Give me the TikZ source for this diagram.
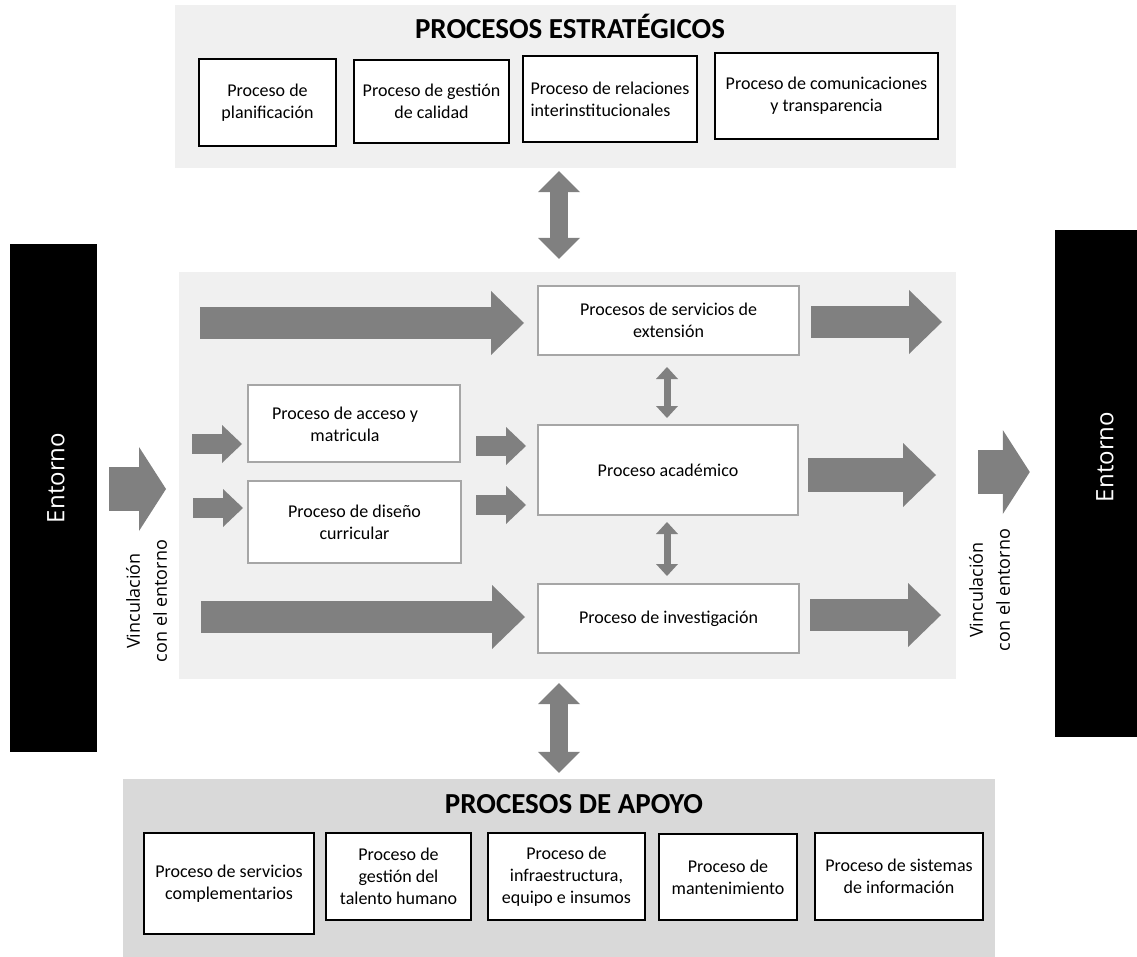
\documentclass[tikz,border=0pt]{standalone}
\usepackage{fontspec}
\setmainfont{Carlito}
\newfontfamily\entfont{Open Sans}
\usetikzlibrary{arrows.meta}
\definecolor{arrgray}{HTML}{808080}
\definecolor{panelgray}{HTML}{F0F0F0}
\definecolor{apogray}{HTML}{D9D9D9}
\definecolor{linegray}{HTML}{A6A6A6}
\def\boxfont{\fontsize{18}{22}\selectfont}
\tikzset{
	sz/.style 2 args={minimum width=#1pt, minimum height=#2pt},
	panel/.style={fill=#1, draw=none, inner sep=0pt},
	title/.style={font=\fontsize{29}{34}\selectfont\bfseries},
	envtext/.style={text=white, rotate=90, font=\entfont\fontsize{24}{28}\selectfont},
	vinc/.style={rotate=90, align=center, font=\entfont\fontsize{18}{27}\selectfont},
	strbox/.style={draw=black, line width=2.5pt, fill=white, align=center, font=\boxfont, inner sep=2pt},
	midbox/.style={draw=linegray, line width=2pt, fill=white, align=center, font=\boxfont, inner sep=2pt},
	bigarr/.style={draw=arrgray, line width=32pt, -{Triangle[width=64pt,length=33pt,line width=0pt]}},
	smallarr/.style={draw=arrgray, line width=20pt, -{Triangle[width=38pt,length=20pt,line width=0pt]}},
	entarr/.style={draw=arrgray, line width=44pt, -{Triangle[width=84pt,length=27pt,line width=0pt]}},
	dblarr/.style={draw=arrgray, line width=18pt, {Triangle[width=42pt,length=21pt,line width=0pt]}-{Triangle[width=42pt,length=21pt,line width=0pt]}},
	thinarr/.style={draw=arrgray, line width=7pt, {Triangle[width=22pt,length=12pt,line width=0pt]}-{Triangle[width=22pt,length=12pt,line width=0pt]}}
}

\begin{document}
\begin{tikzpicture}[x=1pt, y=-1pt]
		\useasboundingbox (0,0) rectangle (1137,957);
		
		%%%%% PANELES %%%%%
		\node[panel=panelgray, sz={781}{163}] (str) at (565.5,86.5) {};
		\node[panel=panelgray, sz={777}{407}] (mid) at (567.5,475.5) {};
		\node[panel=apogray, sz={872}{178}] (apo) at (559,868) {};
		\node[panel=black, sz={87}{508}] (envL) at (53.5,498) {};
		\node[panel=black, sz={82}{507}] (envR) at (1096,483.5) {};
		
		\node[title, anchor=base] (strT) at (570,39) {PROCESOS ESTRATÉGICOS};
		\node[title, anchor=base] (apoT) at (574,813) {PROCESOS DE APOYO};
		
		\node[envtext] (envLT) at (56,478) {Entorno};
		\node[envtext] (envRT) at (1105,457) {Entorno};
		\node[vinc] (vincL) at (146.5,601) {Vinculación\\con el entorno};
		\node[vinc] (vincR) at (989.5,590) {Vinculación\\con el entorno};
		
		%%%%% ESTRATEGICOS %%%%%
		\node[strbox, sz={137}{87}] (plan) at (267.5,102.5) {Proceso de\\planificación};
		\node[strbox, sz={155}{83}] (gest) at (431.5,101.5) {Proceso de gestión\\de calidad};
		\node[strbox, sz={174}{86}, align=left] (rel) at (610,99) {Proceso de relaciones\\interinstitucionales};
		\node[strbox, sz={223}{86}] (com) at (826.5,96) {Proceso de comunicaciones\\y transparencia};
		
		%%%%% MISIONALES %%%%%
		\node[midbox, sz={261}{69}] (ext) at (668.5,320.5) {Procesos de servicios de\\extensión};
		\node[midbox, sz={260}{90}] (acad) at (668,470) {Proceso académico};
		\node[midbox, sz={261}{69}] (inv) at (668.5,618.5) {Proceso de investigación};
		\node[midbox, sz={212}{77}] (acc) at (354,423.5) {};
		\node[font=\boxfont, align=center] (accT) at (345,424) {Proceso de acceso y\\matricula};
		\node[midbox, sz={213}{82}] (dis) at (354.5,522) {Proceso de diseño\\curricular};
		
		%%%%% APOYO %%%%%
		\node[strbox, sz={170}{101}] (serv) at (229,883.5) {Proceso de servicios\\complementarios};
		\node[strbox, sz={145}{87}] (tal) at (398.5,876.5) {Proceso de\\gestión del\\talento humano};
		\node[strbox, sz={157}{87}] (inf) at (566.5,876.5) {Proceso de\\infraestructura,\\equipo e~insumos};
		\node[strbox, sz={138}{86}] (man) at (728,877) {Proceso de\\mantenimiento};
		\node[strbox, sz={168}{87}] (sis) at (899,876.5) {Proceso de sistemas\\de información};
		
		%%%%% FLECHAS %%%%%
		\coordinate (vx) at (559,0);
		\coordinate (vy) at (667,0);
		\draw[dblarr, shorten <=3pt, shorten >=13pt] (str.south -| vx) -- (mid.north -| vx);
		\draw[dblarr, shorten <=4pt, shorten >=6pt] (mid.south -| vx) -- (apo.north -| vx);
		\draw[thinarr, shorten <=11pt, shorten >=6pt] (ext.south -| vy) -- (acad.north -| vy);
		\draw[thinarr, shorten <=6pt, shorten >=7pt] (acad.south -| vy) -- (inv.north -| vy);
		
		\coordinate (inE) at (200,323);
		\coordinate (inI) at (201,617);
		\draw[bigarr, shorten >=13pt] (inE) -- (ext.west |- inE);
		\draw[bigarr, shorten >=12pt] (inI) -- (inv.west |- inI);
		
		\coordinate (outE) at (942,322);
		\coordinate (outA) at (936,475);
		\coordinate (outI) at (941,615);
		\draw[bigarr, shorten <=11pt] (ext.east |- outE) -- (outE);
		\draw[bigarr, shorten <=9pt, line width=34pt] (acad.east |- outA) -- (outA);
		\draw[bigarr, shorten <=10pt] (inv.east |- outI) -- (outI);
		
		\coordinate (inAc) at (192,444);
		\coordinate (inDi) at (193,508);
		\coordinate (toA1) at (0,446);
		\coordinate (toA2) at (0,505);
		\draw[smallarr, shorten >=5pt] (inAc) -- (acc.west |- inAc);
		\draw[smallarr, shorten >=4pt] (inDi) -- (dis.west |- inDi);
		\draw[smallarr, shorten <=15pt, shorten >=11pt] (acc.east |- toA1) -- (acad.west |- toA1);
		\draw[smallarr, shorten <=14pt, shorten >=11pt] (dis.east |- toA2) -- (acad.west |- toA2);
		
		\coordinate (envIn) at (166,489);
		\coordinate (envOut) at (978,472);
		\draw[entarr, shorten <=12pt] (envL.east |- envIn) -- (envIn);
		\draw[entarr, shorten >=25pt] (envOut) -- (envR.west |- envOut);
		
\end{tikzpicture}
\end{document}
